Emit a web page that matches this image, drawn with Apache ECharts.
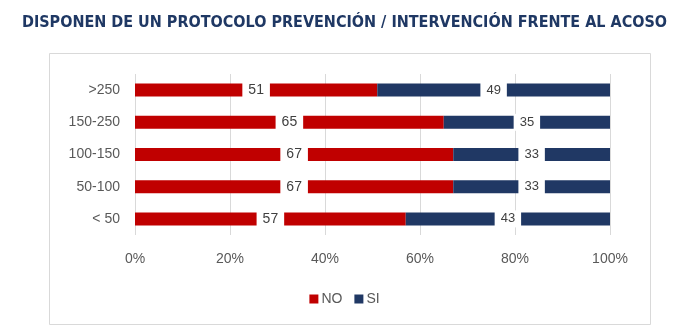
<!DOCTYPE html>
<html>
<head>
<meta charset="utf-8">
<script src="https://cdn.jsdelivr.net/npm/echarts@6/dist/echarts.min.js"></script>
<style>
  html, body { margin: 0; padding: 0; background: #fff; }
  #chart { width: 689px; height: 331px; }
</style>
</head>
<body>
<div id="chart"></div>
<script>
// Size groups (bottom to top) and share answering NO / SI, in percent
const categories = ['< 50', '50-100', '100-150', '150-250', '>250'];
const noValues = [57, 67, 67, 65, 51];
const siValues = [43, 33, 33, 35, 49];
const tickLabels = ['0%', '20%', '40%', '60%', '80%', '100%'];

const chart = echarts.init(document.getElementById('chart'), null, { renderer: 'canvas' });

const baseFont = "'Liberation Sans', 'Open Sans', sans-serif";

function segmentLabel(size) {
  return {
    show: true,
    position: 'inside',
    formatter: '{c}',
    color: '#404040',
    fontSize: size,
    fontFamily: baseFont,
    backgroundColor: '#ffffff',
    padding: [2, 6]
  };
}

chart.setOption({
  animation: false,
  backgroundColor: '#ffffff',
  title: {
    text: 'DISPONEN DE UN PROTOCOLO PREVENCIÓN / INTERVENCIÓN FRENTE AL ACOSO',
    left: 'center',
    top: 10,
    textStyle: {
      color: '#1F3864',
      fontSize: 16,
      fontWeight: 'bold',
      fontFamily: "'Liberation Sans Narrow', 'DejaVu Sans Condensed', sans-serif"
    }
  },
  graphic: [{
    type: 'rect',
    shape: { x: 49.5, y: 53.5, width: 601, height: 271 },
    style: { fill: 'none', stroke: '#d9d9d9', lineWidth: 1 },
    z: -1
  }],
  legend: {
    data: ['NO', 'SI'],
    top: 287,
    left: 'center',
    icon: 'rect',
    itemWidth: 9,
    itemHeight: 9,
    itemGap: 12,
    textStyle: { color: '#595959', fontSize: 14, fontFamily: baseFont, padding: [0, 0, 0, -2] }
  },
  grid: { left: 135, right: 79, top: 74, bottom: 96 },
  xAxis: {
    type: 'value',
    min: 0,
    max: 100,
    interval: 20,
    axisLine: { show: false },
    axisTick: { show: false },
    splitLine: { lineStyle: { color: '#d9d9d9', width: 1 } },
    axisLabel: {
      margin: 17,
      color: '#595959',
      fontSize: 14,
      fontFamily: baseFont,
      formatter: (v) => tickLabels[Math.round(v / 20)]
    }
  },
  yAxis: {
    type: 'category',
    data: categories,
    axisLine: { show: false },
    axisTick: { show: false },
    axisLabel: { margin: 15, color: '#595959', fontSize: 14, fontFamily: baseFont }
  },
  series: [
    {
      name: 'NO',
      type: 'bar',
      stack: 'total',
      barWidth: 13,
      data: noValues,
      itemStyle: { color: '#C00000' },
      label: segmentLabel(14)
    },
    {
      name: 'SI',
      type: 'bar',
      stack: 'total',
      barWidth: 13,
      data: siValues,
      itemStyle: { color: '#203864' },
      label: segmentLabel(13)
    }
  ]
});
</script>
</body>
</html>
